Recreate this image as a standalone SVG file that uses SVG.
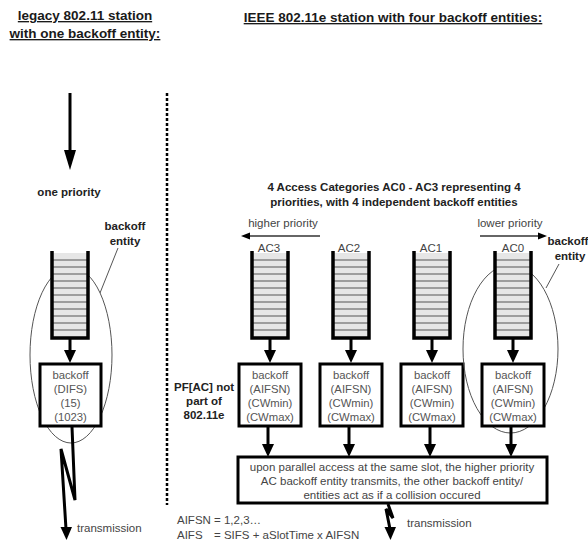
<svg xmlns="http://www.w3.org/2000/svg" width="588" height="541" viewBox="0 0 588 541">
<defs>
<style>
text{font-family:"Liberation Sans",Arial,sans-serif}
.title{font-size:13.5px;font-weight:bold;fill:#1a1a1a;text-anchor:middle;text-decoration:underline}
.bold{font-size:11.5px;font-weight:bold;fill:#222}
.reg{font-size:11.5px;fill:#444}
.box{font-size:11.3px;fill:#555;text-anchor:middle}
.mid{text-anchor:middle}
.thick{stroke:#000;stroke-width:3;fill:none}
.rail{stroke:#000;stroke-width:3.5;fill:none}
.qfill{fill:#e6e6e6}
.slot{stroke:#555;stroke-width:1}
.bx{fill:#fff;stroke:#000;stroke-width:3}
.ell{fill:none;stroke:#555;stroke-width:1}
.thin{stroke:#333;stroke-width:1.5;fill:none}
.head{fill:#000}
</style>
<g id="queue">
<rect class="qfill" x="0" y="0" width="36" height="86"/>
<path class="slot" d="M0,7H36M0,14H36M0,21H36M0,28H36M0,35H36M0,42H36M0,49H36M0,56H36M0,63H36M0,70H36M0,77H36"/>
<path class="rail" d="M0,-2V85H36V-2"/>
</g>
<g id="qarrow">
<line class="thick" x1="0" y1="87" x2="0" y2="101"/>
<polygon class="head" points="-6,99 6,99 0,112"/>
</g>
</defs>

<g id="titles">
<text class="title" x="85" y="20">legacy 802.11 station</text>
<text class="title" x="85" y="38">with one backoff entity:</text>
<text class="title" x="393" y="22">IEEE 802.11e station with four backoff entities:</text>
</g>

<g id="divider">
<line x1="167" y1="93" x2="167" y2="505" stroke="#000" stroke-width="2.5" stroke-dasharray="3,2"/>
</g>

<g id="legacy">
<line class="thick" x1="70" y1="93" x2="70" y2="152"/>
<polygon class="head" points="64,150 76,150 70,170"/>
<text class="bold mid" x="69" y="196">one priority</text>
<text class="bold mid" x="125" y="230">backoff</text>
<text class="bold mid" x="125" y="245">entity</text>
<line class="ell" x1="118" y1="248" x2="100" y2="293"/>
<ellipse class="ell" cx="71" cy="355" rx="41" ry="88"/>
<use href="#queue" x="52" y="253"/>
<use href="#qarrow" x="70" y="251"/>
<rect class="bx" x="40" y="364" width="61" height="62"/>
<text class="box" x="70.5" y="379">backoff</text>
<text class="box" x="70.5" y="393">(DIFS)</text>
<text class="box" x="70.5" y="407">(15)</text>
<text class="box" x="70.5" y="421">(1023)</text>
<path class="thick" d="M72,427 L75,500 L61,449 L66,529"/>
<polygon class="head" points="60.5,527 72,527 66.5,540"/>
<text class="reg" x="77" y="532">transmission</text>
</g>

<g id="header-e">
<text class="bold mid" x="394" y="191" font-size="11.7">4 Access Categories AC0 - AC3 representing 4</text>
<text class="bold mid" x="394" y="206" font-size="11.7">priorities, with 4 independent backoff entities</text>
<text class="reg mid" x="283" y="227">higher priority</text>
<line class="thin" x1="320" y1="236" x2="248" y2="236"/>
<polygon class="head" points="241,236 250,232.5 250,239.5"/>
<text class="reg mid" x="510" y="227">lower priority</text>
<line class="thin" x1="480" y1="236" x2="540" y2="236"/>
<polygon class="head" points="547,236 538,232.5 538,239.5"/>
<text class="bold mid" x="568" y="245">backoff</text>
<text class="bold mid" x="570" y="260">entity</text>
<line class="ell" x1="559" y1="264" x2="546" y2="288"/>
<text class="bold mid" x="204" y="391">PF[AC] not</text>
<text class="bold mid" x="204" y="405">part of</text>
<text class="bold mid" x="204" y="419">802.11e</text>
</g>

<g id="ac3">
<text class="reg mid" x="269" y="252">AC3</text>
<use href="#queue" x="252" y="253"/>
<use href="#qarrow" x="270" y="251"/>
<rect class="bx" x="239" y="364" width="62" height="62"/>
<text class="box" x="270" y="379">backoff</text>
<text class="box" x="270" y="393">(AIFSN)</text>
<text class="box" x="270" y="407">(CWmin)</text>
<text class="box" x="270" y="421">(CWmax)</text>
</g>

<g id="ac2">
<text class="reg mid" x="349" y="252">AC2</text>
<use href="#queue" x="333" y="253"/>
<use href="#qarrow" x="351" y="251"/>
<rect class="bx" x="320" y="364" width="62" height="62"/>
<text class="box" x="351" y="379">backoff</text>
<text class="box" x="351" y="393">(AIFSN)</text>
<text class="box" x="351" y="407">(CWmin)</text>
<text class="box" x="351" y="421">(CWmax)</text>
</g>

<g id="ac1">
<text class="reg mid" x="431" y="252">AC1</text>
<use href="#queue" x="414" y="253"/>
<use href="#qarrow" x="432" y="251"/>
<rect class="bx" x="401" y="364" width="62" height="62"/>
<text class="box" x="432" y="379">backoff</text>
<text class="box" x="432" y="393">(AIFSN)</text>
<text class="box" x="432" y="407">(CWmin)</text>
<text class="box" x="432" y="421">(CWmax)</text>
</g>

<g id="ac0">
<ellipse class="ell" cx="510.5" cy="349" rx="47.5" ry="84"/>
<text class="reg mid" x="513" y="252">AC0</text>
<use href="#queue" x="495" y="253"/>
<use href="#qarrow" x="513" y="251"/>
<rect class="bx" x="482" y="364" width="62" height="62"/>
<text class="box" x="513" y="379">backoff</text>
<text class="box" x="513" y="393">(AIFSN)</text>
<text class="box" x="513" y="407">(CWmin)</text>
<text class="box" x="513" y="421">(CWmax)</text>
</g>

<g id="connectors">
<line class="thick" x1="268" y1="427" x2="268" y2="446"/>
<polygon class="head" points="262,444 274,444 268,457"/>
<line class="thick" x1="349" y1="427" x2="349" y2="446"/>
<polygon class="head" points="343,444 355,444 349,457"/>
<line class="thick" x1="430" y1="427" x2="430" y2="446"/>
<polygon class="head" points="424,444 436,444 430,457"/>
<line class="thick" x1="511" y1="427" x2="511" y2="446"/>
<polygon class="head" points="505,444 517,444 511,457"/>
</g>

<g id="arbiter">
<rect class="bx" x="238" y="457" width="309" height="46"/>
<text class="reg mid" x="392" y="471" fill="#333">upon parallel access at the same slot, the higher priority</text>
<text class="reg mid" x="392" y="485" fill="#333">AC backoff entity transmits, the other backoff entity/</text>
<text class="reg mid" x="392" y="499" fill="#333">entities act as if a collision occured</text>
<path class="thick" d="M388,504 L393,518 L386,509 L390,529"/>
<polygon class="head" points="384.5,527 396,527 390.5,540"/>
<text class="reg" x="407" y="527">transmission</text>
</g>

<g id="formula">
<text class="reg" x="177" y="524">AIFSN = 1,2,3…</text>
<text class="reg" x="177" y="539">AIFS</text>
<text class="reg" x="214" y="539" font-size="12">= SIFS + aSlotTime x AIFSN</text>
</g>
</svg>
